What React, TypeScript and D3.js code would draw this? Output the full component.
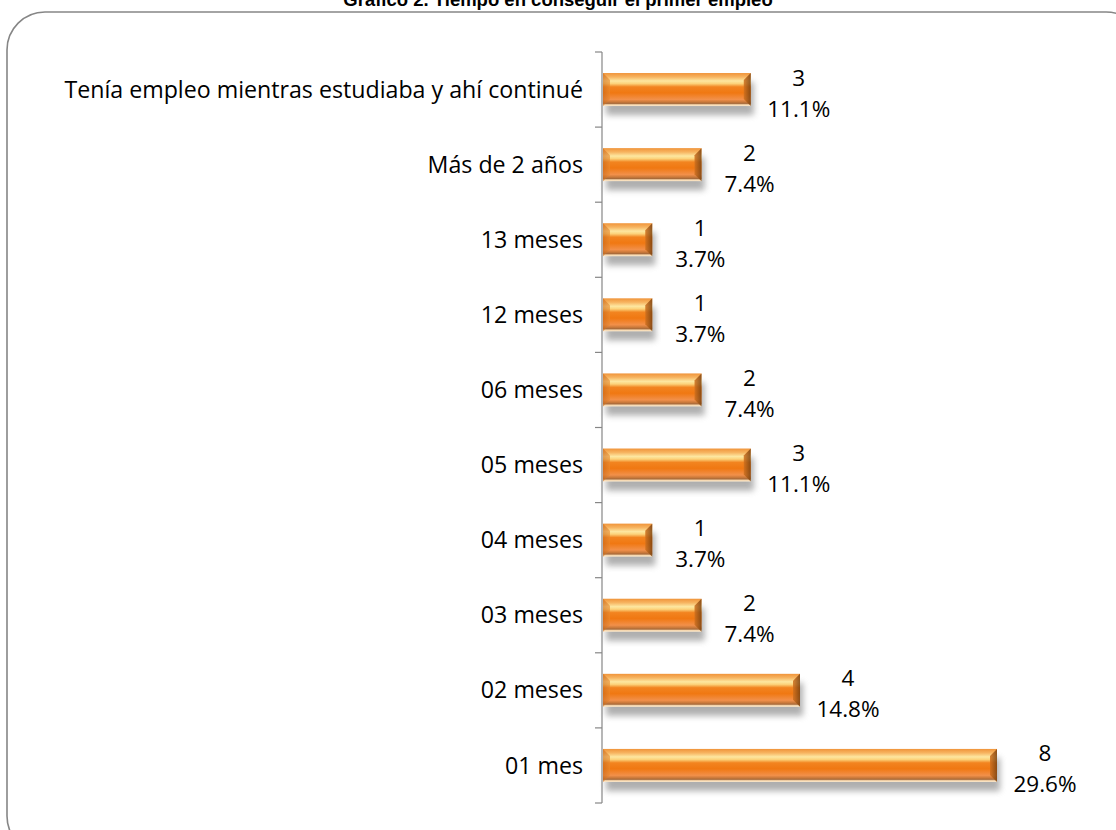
import * as d3 from "d3";

const categories = [
  "Tenía empleo mientras estudiaba y ahí continué",
  "Más de 2 años",
  "13 meses",
  "12 meses",
  "06 meses",
  "05 meses",
  "04 meses",
  "03 meses",
  "02 meses",
  "01 mes",
];
const counts = [3, 2, 1, 1, 2, 3, 1, 2, 4, 8];
const percents = ["11.1%", "7.4%", "3.7%", "3.7%", "7.4%", "11.1%", "3.7%", "7.4%", "14.8%", "29.6%"];

const TITLE = "Gráfico 2. Tiempo en conseguir el primer empleo";
const W = 1116;
const H = 830;
const AXIS_X = 602;
const FONT = "'Open Sans', 'Noto Sans', sans-serif";

export default function App() {
  const y = d3.scaleBand<string>().domain(categories).range([52, 803]).paddingInner(0.56).paddingOuter(0.28);
  const x = d3.scaleLinear().domain([0, 8]).range([AXIS_X + 1, 997]);
  const step = y.step();
  // tick marks on the band boundaries, Excel style
  const ticks = d3.range(categories.length + 1).map((i) => 52 + i * step);
  const bevel = 7;

  return (
    <svg width={W} height={H} style={{ position: "absolute", left: 0, top: 0, background: "#fff" }}>
      <defs>
        <linearGradient id="barFill" x1="0" y1="0" x2="0" y2="1">
          <stop offset="0" stopColor="#f0943a" />
          <stop offset="0.12" stopColor="#f7b460" />
          <stop offset="0.24" stopColor="#fde7a0" />
          <stop offset="0.32" stopColor="#fcd27a" />
          <stop offset="0.42" stopColor="#f28420" />
          <stop offset="0.6" stopColor="#f07812" />
          <stop offset="0.8" stopColor="#f2904a" />
          <stop offset="0.88" stopColor="#c8783a" />
          <stop offset="0.92" stopColor="#a86a3a" />
          <stop offset="0.96" stopColor="#f6d8b0" />
          <stop offset="1" stopColor="#fbe8cc" />
        </linearGradient>
        <linearGradient id="rightBevel" x1="0" y1="0" x2="1" y2="0">
          <stop offset="0" stopColor="#d0701e" />
          <stop offset="1" stopColor="#7a4210" />
        </linearGradient>
        <linearGradient id="leftBevel" x1="0" y1="0" x2="1" y2="0">
          <stop offset="0" stopColor="#c96a1c" />
          <stop offset="1" stopColor="#e98a30" />
        </linearGradient>
        <filter id="shadow" x="-10%" y="-50%" width="120%" height="200%">
          <feGaussianBlur stdDeviation="3" />
        </filter>
      </defs>

      <text x={558} y={6} textAnchor="middle" fontFamily="'Liberation Sans', Arial, sans-serif" fontWeight="bold" fontSize={18.5} fill="#000">
        {TITLE}
      </text>

      <rect x={7} y={12} width={1137} height={842} rx={38} ry={38} fill="none" stroke="#868686" strokeWidth={1.6} />

      {categories.map((c, i) => {
        const y0 = y(c)!;
        const h = y.bandwidth();
        const y1 = y0 + h;
        const x0 = x(0);
        const x1 = x(counts[i]);
        const cy = y0 + h / 2;
        return (
          <g key={c}>
            <rect x={x0 + 3} y={y0 + 9} width={x1 - x0} height={h} fill="#7a7a7a" opacity={0.6} filter="url(#shadow)" />
            <rect x={x0} y={y0} width={x1 - x0} height={h} fill="url(#barFill)" />
            <polygon
              points={`${x0},${y0} ${x0 + bevel},${y0 + bevel} ${x0 + bevel},${y1 - bevel} ${x0},${y1}`}
              fill="url(#leftBevel)"
              opacity={0.6}
            />
            <polygon
              points={`${x1},${y0} ${x1},${y1} ${x1 - bevel},${y1 - bevel} ${x1 - bevel},${y0 + bevel}`}
              fill="url(#rightBevel)"
              opacity={0.85}
            />
            <text x={583} y={cy} dy="0.35em" textAnchor="end" fontFamily={FONT} fontSize={23.2} fill="#000">
              {c}
            </text>
            <text x={x1 + 48} y={cy - 4} textAnchor="middle" fontFamily={FONT} fontSize={22.5} fill="#000">
              {counts[i]}
            </text>
            <text x={x1 + 48} y={cy + 27} textAnchor="middle" fontFamily={FONT} fontSize={22.5} fill="#000">
              {percents[i]}
            </text>
          </g>
        );
      })}

      <line x1={AXIS_X} x2={AXIS_X} y1={52} y2={803} stroke="#868686" strokeWidth={1.2} />
      {ticks.map((t) => (
        <line key={t} x1={AXIS_X - 7} x2={AXIS_X} y1={t} y2={t} stroke="#868686" strokeWidth={1.2} />
      ))}
    </svg>
  );
}
